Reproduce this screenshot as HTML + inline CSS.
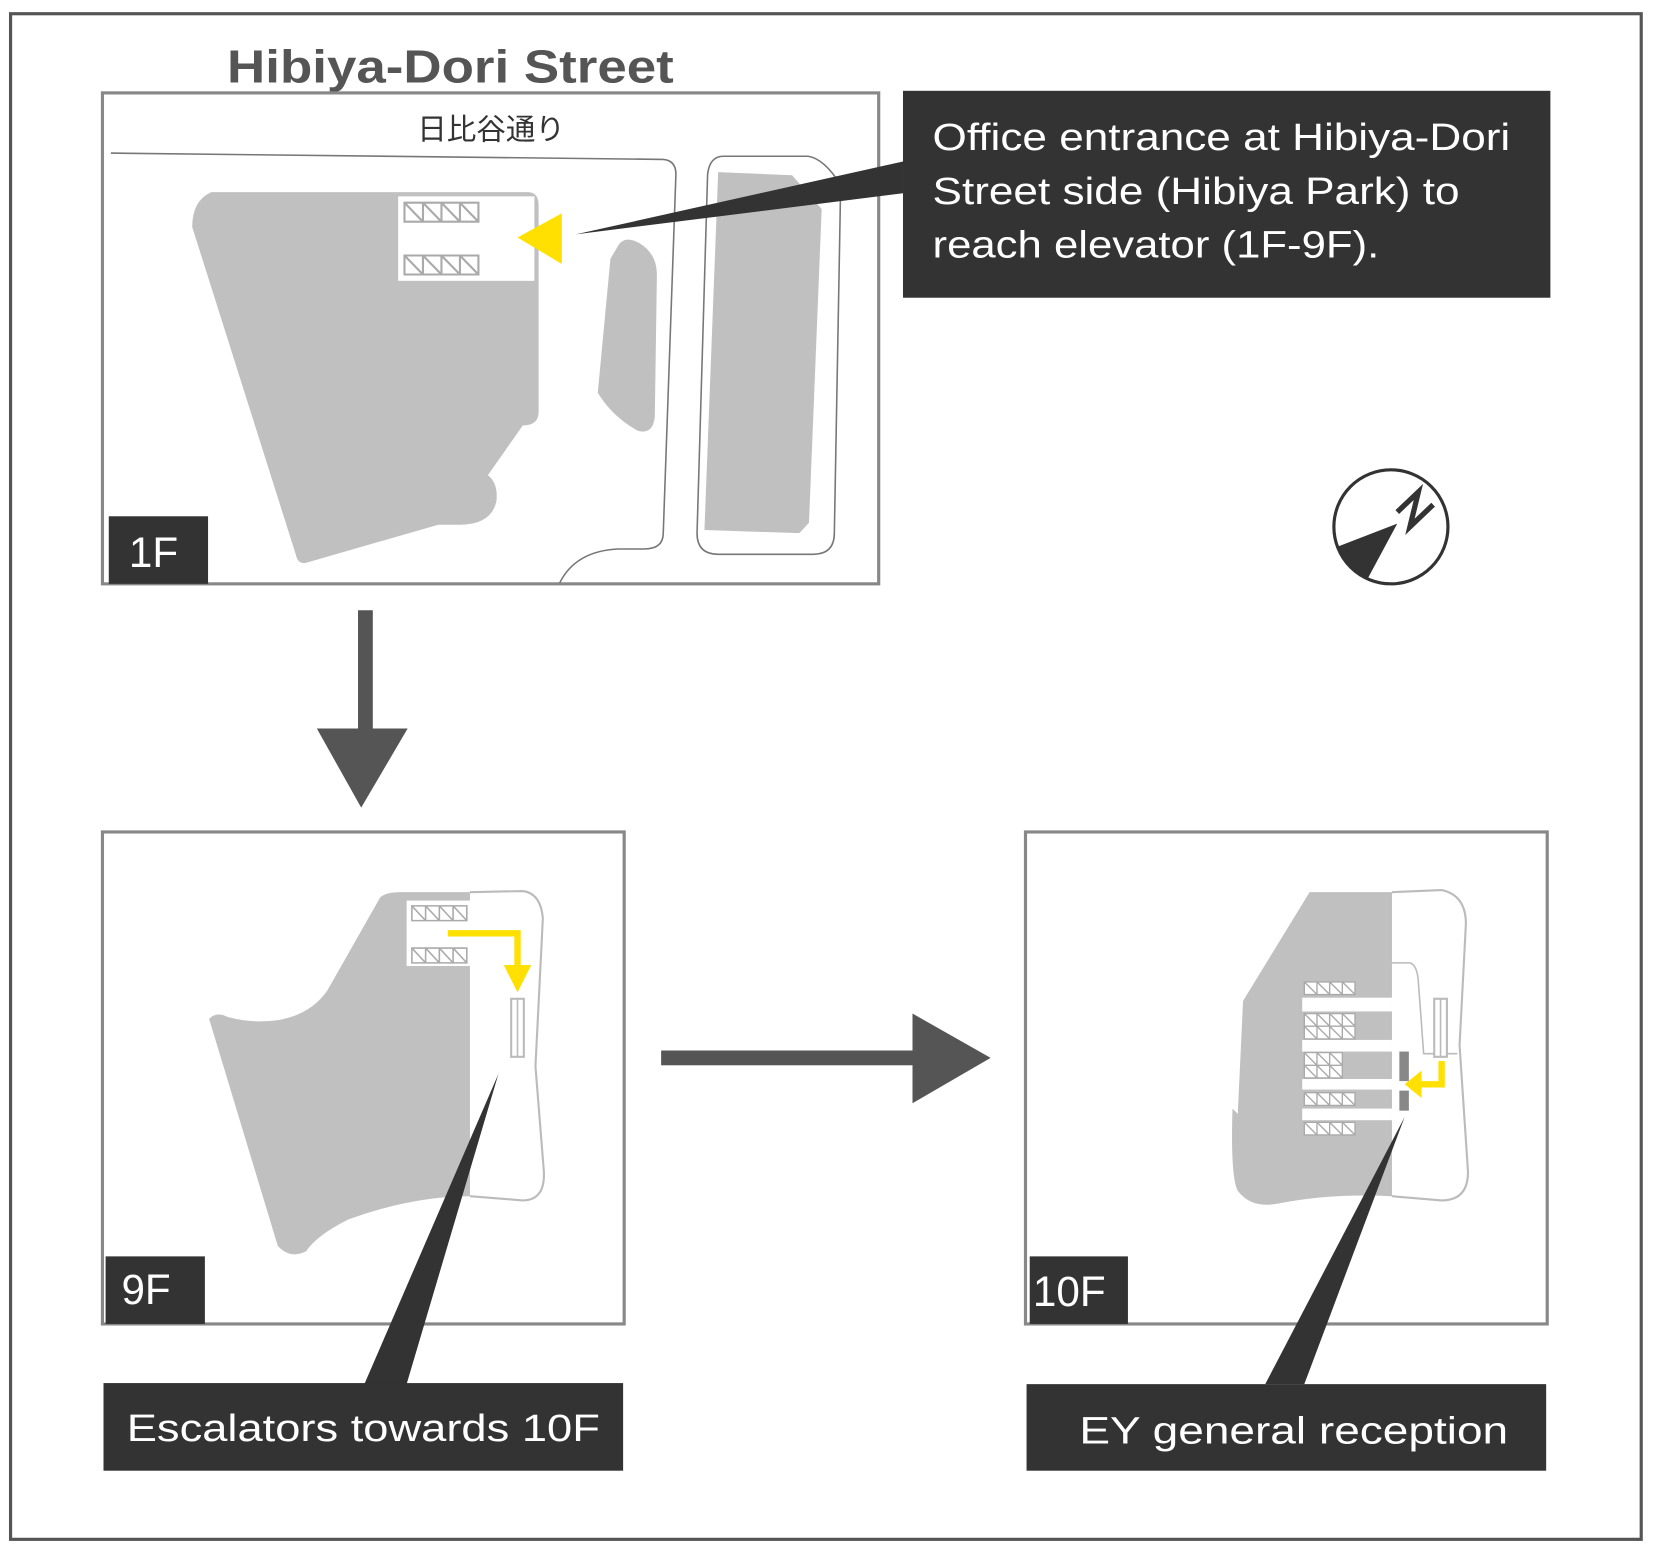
<!DOCTYPE html>
<html><head><meta charset="utf-8"><style>html,body{margin:0;padding:0;background:#fff}svg{display:block}</style></head>
<body>
<svg width="1656" height="1552" viewBox="0 0 1568 1470" preserveAspectRatio="none" xmlns="http://www.w3.org/2000/svg" font-family="Liberation Sans, sans-serif">
<rect x="10" y="13" width="1544" height="1445" fill="#fff" stroke="#555" stroke-width="3"/>
<text x="215" y="78" font-size="44" font-weight="bold" fill="#555" textLength="423" lengthAdjust="spacingAndGlyphs">Hibiya-Dori Street</text>

<!-- 1F -->
<rect x="97" y="88" width="735" height="465" fill="#fff" stroke="#888" stroke-width="3"/>
<text x="465" y="132" font-size="28" fill="#333" text-anchor="middle" font-family="Liberation Sans, Noto Sans CJK JP, sans-serif">日比谷通り</text>
<path d="M105,145 L628,151 Q640,152 640,165 L628,505 Q628,520 610,520 L585,520 Q545,522 530,552" fill="none" stroke="#777" stroke-width="1.5"/>
<path d="M685,148 L765,148 Q780,150 796,175 L790,505 Q790,525 770,525 L680,525 Q660,525 660,505 L670,165 Q672,148 685,148 Z" fill="#fff" stroke="#777" stroke-width="1.5"/>
<polygon points="680,163 750,166 778,198 766,495 757,505 667,502" fill="#c0c0c0"/>
<path d="M584,235 Q590,222 605,230 Q622,240 622,260 L620,395 Q618,412 604,408 Q580,395 566,372 L578,245 Z" fill="#c0c0c0"/>
<path d="M200,182 L500,182 Q510,182 510,195 L510,390 Q510,403 495,403 L462,450 Q472,458 470,475 Q465,497 435,497 L415,497 L290,533 Q282,535 280,525 L182,215 Q182,190 200,182 Z" fill="#c0c0c0"/>
<rect x="377" y="186" width="129" height="80" fill="#fff"/>
<g fill="#fff" stroke="#aaa" stroke-width="2">
<path d="M383,192h70v18h-70z M400.5,192v18 M418,192v18 M435.5,192v18 M383,192l17.5,18 M400.5,192l17.5,18 M418,192l17.5,18 M435.5,192l17.5,18"/>
<path d="M383,242h70v18h-70z M400.5,242v18 M418,242v18 M435.5,242v18 M383,242l17.5,18 M400.5,242l17.5,18 M418,242l17.5,18 M435.5,242l17.5,18"/>
</g>
<polygon points="490,225 532,202 532,250" fill="#ffe000"/>
<polygon points="545,222 855,153 855,183" fill="#333"/>
<rect x="855" y="86" width="613" height="196" fill="#333"/>
<g fill="#fff" font-size="36" lengthAdjust="spacingAndGlyphs"><text x="883" y="142" textLength="547" lengthAdjust="spacingAndGlyphs">Office entrance at Hibiya-Dori</text><text x="883" y="193" textLength="499" lengthAdjust="spacingAndGlyphs">Street side (Hibiya Park) to</text><text x="883" y="244" textLength="423" lengthAdjust="spacingAndGlyphs">reach elevator (1F-9F).</text></g>
<rect x="103" y="489" width="94" height="64" fill="#333"/>
<text x="122" y="537" font-size="40" fill="#fff">1F</text>

<!-- compass -->
<path d="M1266,518 L1323,496 L1295,548 A54,54 0 0 1 1266,518 Z" fill="#333"/>
<circle cx="1317" cy="499" r="54" fill="none" stroke="#333" stroke-width="3"/>
<path d="M1323,485 L1343,466 L1335,499 L1357,478" fill="none" stroke="#333" stroke-width="5"/>

<!-- arrows -->
<rect x="339" y="578" width="14" height="117" fill="#555"/>
<polygon points="300,690 386,690 342,765" fill="#555"/>
<rect x="626" y="995" width="240" height="14" fill="#555"/>
<polygon points="864,960 938,1002 864,1045" fill="#555"/>

<!-- 9F -->
<rect x="97" y="788" width="494" height="466" fill="#fff" stroke="#888" stroke-width="3"/>
<path d="M445,845 L495,844 Q512,846 514,870 L507,1010 L515,1110 Q516,1137 495,1137 L445,1133" fill="#fff" stroke="#bbb" stroke-width="2"/>
<path d="M198,965 Q205,958 215,963 Q240,970 265,966 Q295,960 310,938 L360,850 Q365,845 380,845 L445,845 L445,1133 Q390,1133 330,1155 Q300,1170 290,1185 Q275,1193 263,1180 Z" fill="#c0c0c0"/>
<rect x="385" y="853" width="60" height="62" fill="#fff"/>
<g fill="#fff" stroke="#aaa" stroke-width="1.5">
<path d="M390,858h52v14h-52z M403,858v14 M416,858v14 M429,858v14 M390,858l13,14 M403,858l13,14 M416,858l13,14 M429,858l13,14"/>
<path d="M390,898h52v14h-52z M403,898v14 M416,898v14 M429,898v14 M390,898l13,14 M403,898l13,14 M416,898l13,14 M429,898l13,14"/>
</g>
<path d="M424,884 L490,884 L490,918" fill="none" stroke="#ffe000" stroke-width="6"/>
<polygon points="477,914 503,914 490,940" fill="#ffe000"/>
<rect x="484" y="946" width="12" height="55" fill="#fff" stroke="#bbb" stroke-width="2"/>
<line x1="490" y1="946" x2="490" y2="1001" stroke="#bbb" stroke-width="1.5"/>
<polygon points="345,1311 385,1311 472,1017" fill="#333"/>
<rect x="98" y="1310" width="492" height="83" fill="#333"/>
<text x="120" y="1365" font-size="36" fill="#fff" textLength="448" lengthAdjust="spacingAndGlyphs">Escalators towards 10F</text>
<rect x="100" y="1190" width="94" height="64" fill="#333"/>
<text x="115" y="1235" font-size="40" fill="#fff">9F</text>

<!-- 10F -->
<rect x="971" y="788" width="494" height="466" fill="#fff" stroke="#888" stroke-width="3"/>
<path d="M1318,845 L1365,843 Q1388,848 1388,875 L1382,990 L1390,1110 Q1390,1137 1365,1137 L1318,1133" fill="#fff" stroke="#bbb" stroke-width="2"/>
<path d="M1240,845 L1318,845 L1318,1133 Q1260,1130 1210,1140 Q1185,1145 1172,1128 Q1165,1115 1167,1050 L1172,1055 L1177,948 Z" fill="#c0c0c0"/>
<g fill="#fff"><rect x="1233" y="945" width="85" height="13"/><rect x="1233" y="985" width="85" height="11"/><rect x="1233" y="1022" width="85" height="10"/><rect x="1233" y="1050" width="85" height="11"/></g>
<g fill="#fff" stroke="#aaa" stroke-width="1.3">
<path d="M1235,930h48v12h-48z M1247,930v12 M1259,930v12 M1271,930v12 M1235,930l12,12 M1247,930l12,12 M1259,930l12,12 M1271,930l12,12"/>
<path d="M1235,960h48v24h-48z M1235,972h48 M1247,960v24 M1259,960v24 M1271,960v24 M1235,960l12,12 M1247,960l12,12 M1259,960l12,12 M1271,960l12,12 M1235,972l12,12 M1247,972l12,12 M1259,972l12,12 M1271,972l12,12"/>
<path d="M1235,997h36v24h-36z M1235,1009h36 M1247,997v24 M1259,997v24 M1235,997l12,12 M1247,997l12,12 M1259,997l12,12 M1235,1009l12,12 M1247,1009l12,12 M1259,1009l12,12"/>
<path d="M1235,1035h48v12h-48z M1247,1035v12 M1259,1035v12 M1271,1035v12 M1235,1035l12,12 M1247,1035l12,12 M1259,1035l12,12 M1271,1035l12,12"/>
<path d="M1235,1063h48v12h-48z M1247,1063v12 M1259,1063v12 M1271,1063v12 M1235,1063l12,12 M1247,1063l12,12 M1259,1063l12,12 M1271,1063l12,12"/>
</g>
<rect x="1325" y="996" width="9" height="28" fill="#888"/>
<rect x="1325" y="1033" width="9" height="19" fill="#888"/>
<path d="M1318,912 L1335,912 Q1342,914 1343,930 L1348,998 L1380,998" fill="none" stroke="#bbb" stroke-width="1.5"/>
<rect x="1358" y="946" width="12" height="55" fill="#fff" stroke="#bbb" stroke-width="2"/>
<line x1="1364" y1="946" x2="1364" y2="1001" stroke="#bbb" stroke-width="1.5"/>
<path d="M1365,1005 L1365,1027 L1344,1027" fill="none" stroke="#ffe000" stroke-width="6"/>
<polygon points="1330,1027 1346,1014 1346,1040" fill="#ffe000"/>
<polygon points="1198,1311 1235,1311 1330,1058" fill="#333"/>
<rect x="972" y="1311" width="492" height="82" fill="#333"/>
<text x="1022" y="1367" font-size="36" fill="#fff" textLength="406" lengthAdjust="spacingAndGlyphs">EY general reception</text>
<rect x="975" y="1190" width="93" height="64" fill="#333"/>
<text x="978" y="1237" font-size="40" fill="#fff">10F</text>
</svg>
</body></html>
